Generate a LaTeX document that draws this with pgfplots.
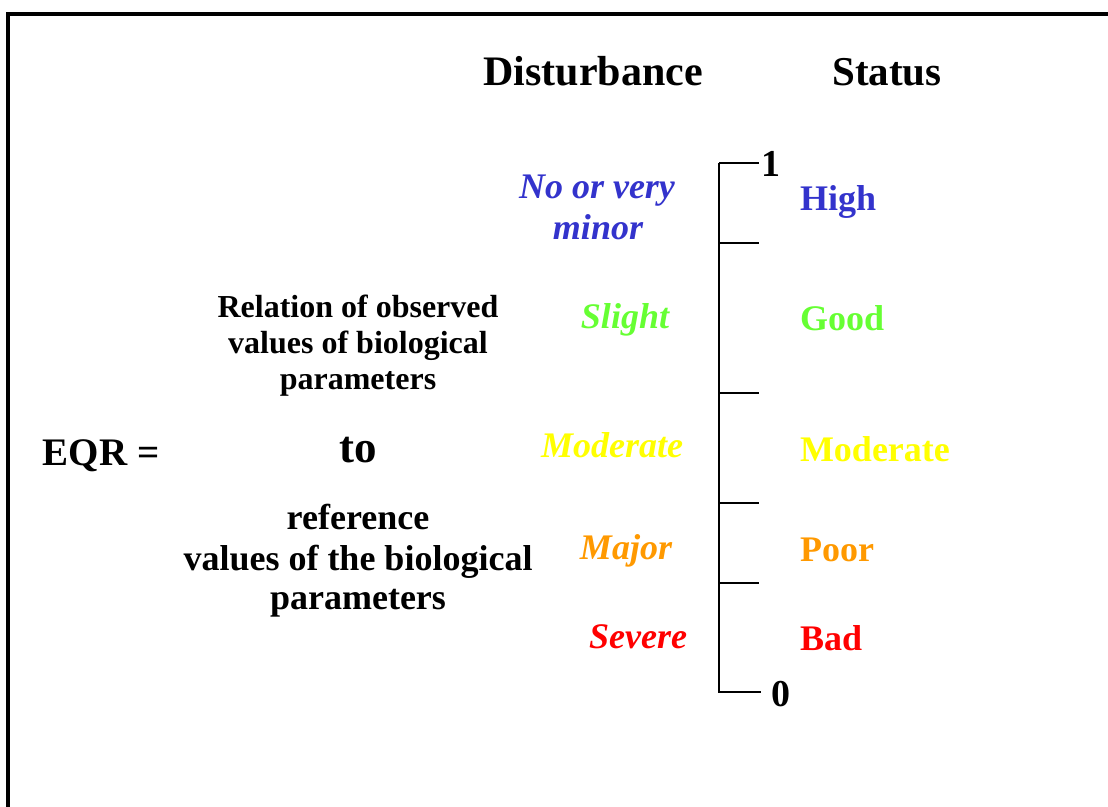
\documentclass[border=0pt]{standalone}
\usepackage{pgfplots}
\pgfplotsset{compat=1.18}
\usepackage{fontspec}
\setmainfont{Liberation Serif}
\definecolor{cblue}{HTML}{3333CC}
\definecolor{cgreen}{HTML}{66FF33}
\definecolor{cyellow}{HTML}{FFFF00}
\definecolor{corange}{HTML}{FF9900}
\definecolor{cred}{HTML}{FF0000}
\newcommand{\fs}[1]{\fontsize{#1}{#1}\selectfont}
\tikzset{lab/.style={inner sep=0pt, outer sep=0pt}}
\begin{document}
\begin{tikzpicture}
\begin{axis}[
  width=554pt, height=403.5pt, scale only axis,
  xmin=0, xmax=1108, ymin=0, ymax=807, y dir=reverse,
  hide axis, clip=true,
]
% frame
\addplot[black, line width=2pt, line join=miter] coordinates {(8,807) (8,14) (1108,14)};
% scale
\addplot[black, line width=0.6pt] coordinates {(719,163) (719,693)};
\addplot[black, line width=0.6pt] coordinates {(719,163) (759,163)};
\addplot[black, line width=0.6pt] coordinates {(719,243) (759,243)};
\addplot[black, line width=0.6pt] coordinates {(719,393) (759,393)};
\addplot[black, line width=0.6pt] coordinates {(719,503) (759,503)};
\addplot[black, line width=0.6pt] coordinates {(719,583) (759,583)};
\addplot[black, line width=0.6pt] coordinates {(720,692) (761,692)};
% headers
\node[lab, anchor=base] at (axis cs:593,86) {\fs{21}\bfseries Disturbance};
\node[lab, anchor=base] at (axis cs:887,86) {\fs{20.5}\bfseries Status};
% scale numbers
\node[lab, anchor=base west] at (axis cs:761,177) {\fs{19}\bfseries 1};
\node[lab, anchor=base west] at (axis cs:771,706) {\fs{19}\bfseries 0};
% disturbance labels
\node[lab, anchor=base, text=cblue] at (axis cs:597,199) {\fs{18}\bfseries\itshape No or very};
\node[lab, anchor=base, text=cblue] at (axis cs:598,240) {\fs{18}\bfseries\itshape minor};
\node[lab, anchor=base, text=cgreen] at (axis cs:625,329) {\fs{18}\bfseries\itshape Slight};
\node[lab, anchor=base, text=cyellow] at (axis cs:612,458) {\fs{18}\bfseries\itshape Moderate};
\node[lab, anchor=base, text=corange] at (axis cs:626,559) {\fs{18}\bfseries\itshape Major};
\node[lab, anchor=base, text=cred] at (axis cs:638,648) {\fs{18}\bfseries\itshape Severe};
% status labels
\node[lab, anchor=base west, text=cblue] at (axis cs:800,211) {\fs{18}\bfseries High};
\node[lab, anchor=base west, text=cgreen] at (axis cs:800,331) {\fs{18}\bfseries Good};
\node[lab, anchor=base west, text=cyellow] at (axis cs:800,461) {\fs{18}\bfseries Moderate};
\node[lab, anchor=base west, text=corange] at (axis cs:800,561) {\fs{18}\bfseries Poor};
\node[lab, anchor=base west, text=cred] at (axis cs:800,650) {\fs{18}\bfseries Bad};
% EQR
\node[lab, anchor=base] at (axis cs:101,466) {\fs{19.5}\bfseries EQR =};
\node[lab, anchor=base] at (axis cs:358,318) {\fs{16}\bfseries Relation of observed};
\node[lab, anchor=base] at (axis cs:358,354) {\fs{16}\bfseries values of biological};
\node[lab, anchor=base] at (axis cs:358,390) {\fs{16}\bfseries parameters};
\node[lab, anchor=base] at (axis cs:358,462) {\fs{22.5}\bfseries to};
\node[lab, anchor=base] at (axis cs:358,529) {\fs{18}\bfseries reference};
\node[lab, anchor=base] at (axis cs:358,570) {\fs{18}\bfseries values of the biological};
\node[lab, anchor=base] at (axis cs:358,609) {\fs{18}\bfseries parameters};
\end{axis}
\pgfresetboundingbox
\useasboundingbox (current axis.south west) rectangle (current axis.north east);
\end{tikzpicture}
\end{document}
